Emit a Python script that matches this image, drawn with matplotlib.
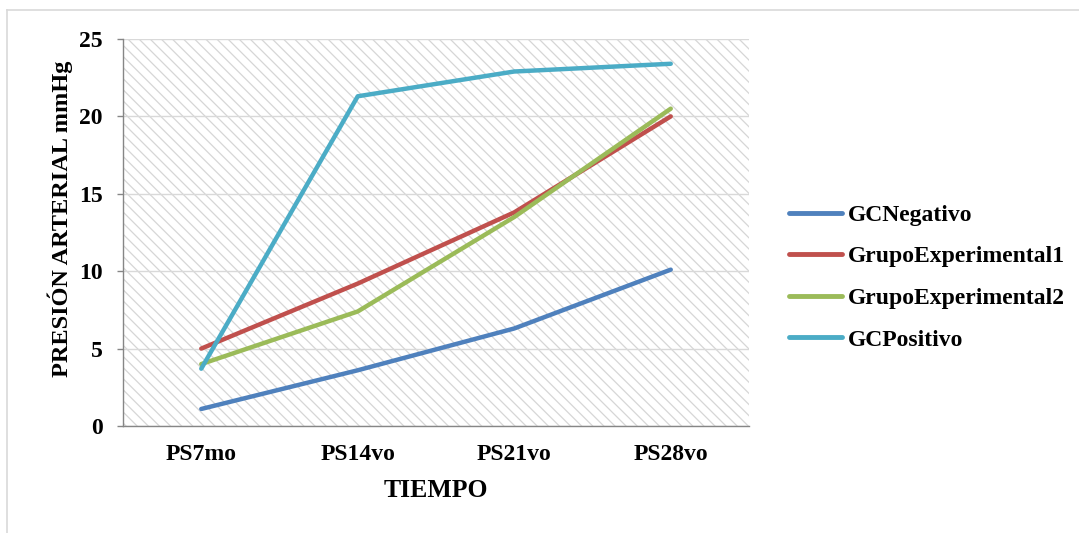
import matplotlib
matplotlib.use("Agg")
import matplotlib.pyplot as plt
from matplotlib.patches import Rectangle
from matplotlib.lines import Line2D

plt.rcParams['font.family'] = ['Liberation Serif', 'DejaVu Serif']
plt.rcParams['font.weight'] = 'bold'
plt.rcParams['hatch.color'] = '#d6d6d6'
plt.rcParams['hatch.linewidth'] = 0.9

categories = ["PS7mo", "PS14vo", "PS21vo", "PS28vo"]
gc_negativo = [1.1, 3.6, 6.3, 10.1]
grupo_exp1 = [5.0, 9.2, 13.8, 20.0]
grupo_exp2 = [4.0, 7.4, 13.5, 20.5]
gc_positivo = [3.7, 21.3, 22.9, 23.4]

series = [
    ("GCNegativo", gc_negativo, "#4f81bd"),
    ("GrupoExperimental1", grupo_exp1, "#c0504d"),
    ("GrupoExperimental2", grupo_exp2, "#9bbb59"),
    ("GCPositivo", gc_positivo, "#4bacc6"),
]
yticks = [0, 5, 10, 15, 20, 25]

W, H = 1079, 533
fig = plt.figure(figsize=(W / 100, H / 100), dpi=100)

# chart frame: only the top and left edges fall inside the canvas
frame_kw = dict(transform=fig.transFigure, color="#d9d9d9", linewidth=1.2)
fig.lines.append(Line2D([7 / W, 1.0], [1 - 10 / H, 1 - 10 / H], **frame_kw))
fig.lines.append(Line2D([7 / W, 7 / W], [0.0, 1 - 10 / H], **frame_kw))

ax = fig.add_axes([123 / W, 1 - 426 / H, 626 / W, 387 / H])
ax.add_patch(Rectangle((0, 0), 1, 1, transform=ax.transAxes, facecolor="white",
                       hatch="\\\\\\", edgecolor="#d6d6d6", linewidth=0, zorder=0))

x = list(range(len(categories)))
for name, vals, color in series:
    ax.plot(x, vals, color=color, linewidth=3.2, label=name,
            solid_capstyle="round", solid_joinstyle="round", zorder=3)

ax.set_xlim(-0.5, len(categories) - 0.5)
ax.set_ylim(0, 25)
ax.set_yticks(yticks)
ax.set_xticks(x)
ax.set_xticklabels(categories)
ax.yaxis.grid(True, color="#d9d9d9", linewidth=1.0, zorder=1)
ax.set_axisbelow(True)

for side in ("top", "right"):
    ax.spines[side].set_visible(False)
for side in ("left", "bottom"):
    ax.spines[side].set_color("#868686")
    ax.spines[side].set_linewidth(1.0)
ax.tick_params(axis="y", length=4.5, width=1.0, color="#868686", labelsize=17, pad=10)
ax.tick_params(axis="x", length=0, labelsize=17, pad=13)

ax.set_xlabel("TIEMPO", fontsize=18.5, fontweight="bold", labelpad=10)
ax.set_ylabel("PRESIÓN ARTERIAL mmHg", fontsize=17.5, fontweight="bold")
ax.yaxis.set_label_coords((73 - 123) / 626, 0.535)

leg = fig.legend(loc="upper left", bbox_to_anchor=(768 / W, 1 - 183 / H),
                 frameon=False, fontsize=17, handlelength=2.25, handletextpad=0.25,
                 labelspacing=0.85)
for h in leg.get_lines():
    h.set_linewidth(3.5)

fig.savefig("out.png", dpi=100)
